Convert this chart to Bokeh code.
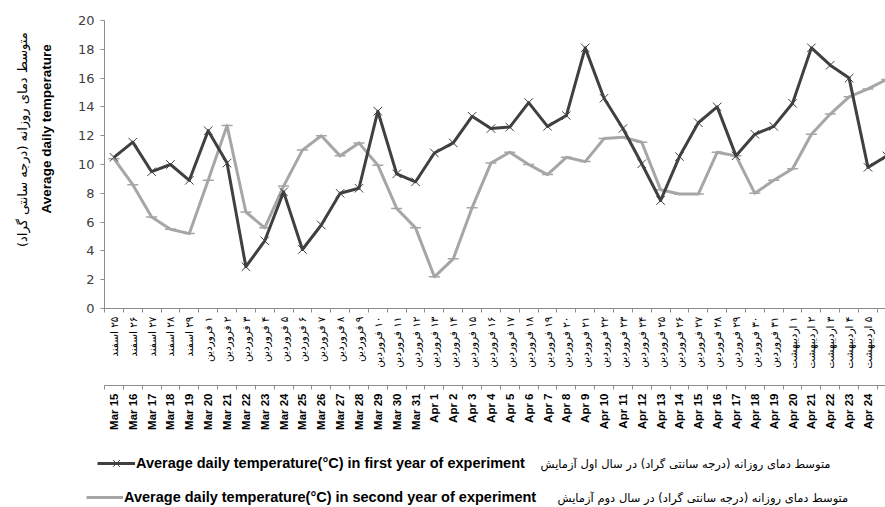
import math
from bokeh.plotting import figure
from bokeh.layouts import column
from bokeh.models import (Range1d, FixedTicker, SingleIntervalTicker, LinearAxis,
                          Legend, LegendItem, Label)
from bokeh.embed import file_html
from bokeh.resources import INLINE

dates_en = ["Mar 15", "Mar 16", "Mar 17", "Mar 18", "Mar 19", "Mar 20", "Mar 21", "Mar 22",
            "Mar 23", "Mar 24", "Mar 25", "Mar 26", "Mar 27", "Mar 28", "Mar 29", "Mar 30",
            "Mar 31", "Apr 1", "Apr 2", "Apr 3", "Apr 4", "Apr 5", "Apr 6", "Apr 7", "Apr 8",
            "Apr 9", "Apr 10", "Apr 11", "Apr 12", "Apr 13", "Apr 14", "Apr 15", "Apr 16",
            "Apr 17", "Apr 18", "Apr 19", "Apr 20", "Apr 21", "Apr 22", "Apr 23", "Apr 24", "Apr 25"]

dates_fa = ["۲۵ اسفند", "۲۶ اسفند", "۲۷ اسفند", "۲۸ اسفند", "۲۹ اسفند",
            "۱ فروردین", "۲ فروردین", "۳ فروردین", "۴ فروردین", "۵ فروردین",
            "۶ فروردین", "۷ فروردین", "۸ فروردین", "۹ فروردین", "۱۰ فروردین",
            "۱۱ فروردین", "۱۲ فروردین", "۱۳ فروردین", "۱۴ فروردین", "۱۵ فروردین",
            "۱۶ فروردین", "۱۷ فروردین", "۱۸ فروردین", "۱۹ فروردین", "۲۰ فروردین",
            "۲۱ فروردین", "۲۲ فروردین", "۲۳ فروردین", "۲۴ فروردین", "۲۵ فروردین",
            "۲۶ فروردین", "۲۷ فروردین", "۲۸ فروردین", "۲۹ فروردین", "۳۰ فروردین",
            "۳۱ فروردین", "۱ اردیبهشت", "۲ اردیبهشت", "۳ اردیبهشت", "۴ اردیبهشت",
            "۵ اردیبهشت", "۶ اردیبهشت"]

year1 = [10.5, 11.55, 9.5, 10.0, 8.9, 12.35, 10.1, 2.9, 4.7, 8.1, 4.1, 5.8, 8.0, 8.35,
         13.7, 9.35, 8.8, 10.8, 11.5, 13.35, 12.5, 12.6, 14.3, 12.65, 13.4, 18.1, 14.6,
         12.5, 10.05, 7.5, 10.55, 12.9, 14.0, 10.6, 12.1, 12.65, 14.25, 18.1, 16.9, 16.0,
         9.8, 10.6]

year2 = [10.4, 8.6, 6.35, 5.5, 5.2, 8.9, 12.7, 6.7, 5.6, 8.5, 11.0, 12.0, 10.6, 11.5,
         9.95, 6.95, 5.6, 2.2, 3.45, 7.0, 10.1, 10.85, 10.0, 9.3, 10.5, 10.2, 11.8, 11.9,
         11.55, 8.25, 7.95, 7.95, 10.85, 10.6, 8.0, 8.9, 9.7, 12.1, 13.5, 14.7, 15.25, 15.9]

label_en_1 = "Average daily temperature(°C) in first year of experiment"
label_en_2 = "Average daily temperature(°C) in second year of experiment"
label_fa_1 = "متوسط دمای روزانه (درجه سانتی گراد) در سال اول آزمایش"
label_fa_2 = "متوسط دمای روزانه (درجه سانتی گراد) در سال دوم آزمایش"
y_title_en = "Average daily temperature"
y_title_fa = "متوسط دمای روزانه (درجه سانتی گراد)"

DARK = "#404040"
GRAY = "#a6a6a6"
AXIS = "#8c8c8c"
FA_FONT = "DejaVu Sans"
EN_FONT = "Liberation Sans"
NB = "\u00a0"

xs = list(range(len(dates_en)))
bounds = [i - 0.5 for i in range(len(dates_en) + 1)]

# ---------------- main chart ----------------
p = figure(width=885, height=440, output_backend="svg", toolbar_location=None,
           x_range=Range1d(-0.5, 40.93), y_range=Range1d(0, 20),
           min_border_left=104, min_border_right=0, min_border_top=20, min_border_bottom=132)
p.frame_align = False
p.outline_line_color = None
p.xgrid.visible = False
p.ygrid.visible = False

l2 = p.line(xs, year2, line_color=GRAY, line_width=3, line_join="round")
s2 = p.scatter(xs, year2, marker="dash", size=11, line_color=GRAY, line_width=1.5)
l1 = p.line(xs, year1, line_color=DARK, line_width=3, line_join="round")
s1 = p.scatter(xs, year1, marker="x", size=12, line_color=DARK, line_width=1)

ya = p.yaxis[0]
ya.ticker = SingleIntervalTicker(interval=2, num_minor_ticks=0)
ya.axis_line_color = AXIS
ya.major_tick_line_color = AXIS
ya.major_tick_out = 4
ya.major_tick_in = 0
ya.major_label_standoff = 6
ya.major_label_text_font = "DejaVu Sans"
ya.major_label_text_font_size = "13px"
ya.major_label_text_color = DARK
ya.axis_label = NB * 19 + y_title_en
ya.axis_label_text_font = EN_FONT
ya.axis_label_text_font_style = "bold"
ya.axis_label_text_font_size = "13.5px"
ya.axis_label_text_color = "#000000"
ya.axis_label_standoff = 21

ya2 = LinearAxis(ticker=FixedTicker(ticks=[]), axis_line_color=None,
                 major_tick_line_color=None, minor_tick_line_color=None,
                 major_tick_out=0, minor_tick_out=0, major_label_standoff=0,
                 axis_label=NB * 12 + y_title_fa, axis_label_text_font=FA_FONT,
                 axis_label_text_font_style="normal", axis_label_text_font_size="13px",
                 axis_label_text_color="#000000", axis_label_standoff=6)
p.add_layout(ya2, "left")

xa = p.xaxis[0]
xa.ticker = FixedTicker(ticks=xs, minor_ticks=bounds)
xa.major_label_overrides = {i: "\u200f" + t for i, t in zip(xs, dates_fa)}
xa.major_label_orientation = math.pi / 2
xa.major_label_text_font = FA_FONT
xa.major_label_text_font_size = "10.5px"
xa.major_label_text_color = "#000000"
xa.major_label_standoff = 4
xa.major_tick_out = 4
xa.major_tick_in = 0
xa.major_tick_line_color = None
xa.minor_tick_out = 4
xa.minor_tick_in = 0
xa.minor_tick_line_color = AXIS
xa.axis_line_color = AXIS
xa.axis_label = " "
xa.axis_label_text_font_size = "6px"
xa.axis_label_standoff = 5

xb = LinearAxis(ticker=FixedTicker(ticks=xs, minor_ticks=bounds))
xb.major_label_overrides = {i: t for i, t in zip(xs, dates_en)}
xb.major_label_orientation = math.pi / 2
xb.major_label_text_font = EN_FONT
xb.major_label_text_font_style = "bold"
xb.major_label_text_font_size = "11.5px"
xb.major_label_text_color = "#000000"
xb.major_label_standoff = 4
xb.major_tick_out = 4
xb.major_tick_in = 0
xb.major_tick_line_color = None
xb.minor_tick_out = 4
xb.minor_tick_in = 0
xb.minor_tick_line_color = AXIS
xb.axis_line_color = AXIS
p.add_layout(xb, "below")

# ---------------- legend strip ----------------
q = figure(width=885, height=67, output_backend="svg", toolbar_location=None,
           x_range=Range1d(-0.5, 40.93), y_range=Range1d(0, 20),
           x_axis_type=None, y_axis_type=None,
           min_border_left=0, min_border_right=0, min_border_top=0, min_border_bottom=0)
q.frame_align = False
q.outline_line_color = None
q.xgrid.visible = False
q.ygrid.visible = False

# hidden copies of the series: only their legend keys are shown here
kl1 = q.line(xs, year1, line_color=DARK, line_width=3, visible=False)
ks1 = q.scatter(xs, year1, marker="x", line_color=DARK, line_width=1, visible=False)
kl2 = q.line(xs, year2, line_color=GRAY, line_width=3, visible=False)
ks2 = q.scatter(xs, year2, marker="dash", line_color=GRAY, line_width=1.5, visible=False)


def add_legend(label, rends, loc, gw):
    lg = Legend(items=[LegendItem(label=label, renderers=rends)], location=loc,
                border_line_color=None, background_fill_alpha=0, padding=0, margin=0,
                glyph_width=gw, glyph_height=24, label_height=24, label_standoff=1,
                label_text_font=EN_FONT, label_text_font_style="bold",
                label_text_font_size="14.5px", label_text_color="#000000")
    q.add_layout(lg)


add_legend(label_en_1, [kl1, ks1], (97, 32), 38)
add_legend(label_en_2, [kl2, ks2], (86, -2), 37)

q.add_layout(Label(x=540, y=44, x_units="screen", y_units="screen", text=label_fa_1,
                   text_font=FA_FONT, text_font_size="11.5px", text_baseline="middle",
                   text_align="left", text_color="#000000"))
q.add_layout(Label(x=557, y=10, x_units="screen", y_units="screen", text=label_fa_2,
                   text_font=FA_FONT, text_font_size="11.5px", text_baseline="middle",
                   text_align="left", text_color="#000000"))

layout = column(p, q, spacing=0)
open("out.html", "w").write(file_html(layout, INLINE))
